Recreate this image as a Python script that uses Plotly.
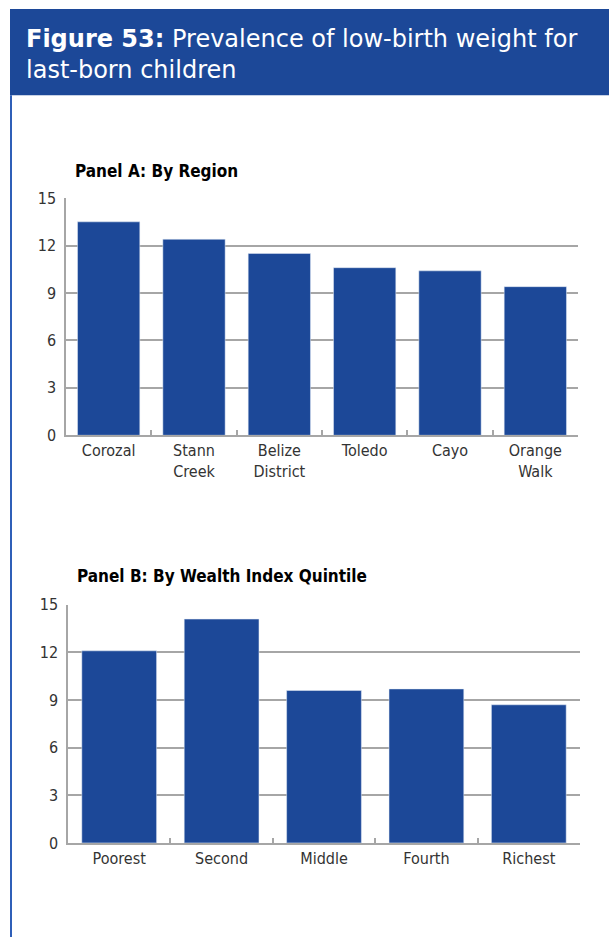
import plotly.graph_objects as go

# Panel A: by region
regions = ["Corozal", "Stann<br>Creek", "Belize<br>District", "Toledo", "Cayo", "Orange<br>Walk"]
region_values = [13.5, 12.4, 11.5, 10.6, 10.4, 9.4]

# Panel B: by wealth index quintile
quintiles = ["Poorest", "Second", "Middle", "Fourth", "Richest"]
quintile_values = [12.1, 14.1, 9.6, 9.7, 8.7]

y_ticks = [0, 3, 6, 9, 12, 15]

W, H = 609, 947
BLUE = "#1c4898"
GRID = "#a6a6a6"
NARROW = "DejaVu Sans Condensed, Liberation Sans Narrow, sans-serif"


def px_x(x):
    return x / W


def px_y(y):
    return 1 - y / H


fig = go.Figure()
fig.add_trace(go.Bar(x=regions, y=region_values, marker_color=BLUE,
                     xaxis="x", yaxis="y", hoverinfo="x+y"))
fig.add_trace(go.Bar(x=quintiles, y=quintile_values, marker_color=BLUE,
                     xaxis="x2", yaxis="y2", hoverinfo="x+y"))

xaxis_style = dict(showline=True, linecolor=GRID, linewidth=2, ticks="inside",
                   tickson="boundaries", ticklen=5, tickcolor=GRID, tickwidth=1.5,
                   tickfont=dict(family=NARROW, size=16, color="#333"),
                   showgrid=False, fixedrange=True)
yaxis_style = dict(range=[0, 15], tickvals=y_ticks, showline=True, linecolor=GRID,
                   linewidth=1.5, gridcolor=GRID, gridwidth=1.5, ticks="",
                   ticklabelstandoff=5, zeroline=False,
                   tickfont=dict(family=NARROW, size=16, color="#333"),
                   fixedrange=True)

fig.update_layout(
    autosize=True,
    margin=dict(l=0, r=0, t=0, b=0),
    paper_bgcolor="white", plot_bgcolor="white",
    showlegend=False, bargap=0.27,
    xaxis=dict(domain=[px_x(66), px_x(578)], anchor="y", **xaxis_style),
    yaxis=dict(domain=[px_y(435), px_y(193)], anchor="x", **yaxis_style),
    xaxis2=dict(domain=[px_x(68), px_x(580)], anchor="y2", **xaxis_style),
    yaxis2=dict(domain=[px_y(851), px_y(608)], anchor="x2", **yaxis_style),
)

# header band and box border
fig.add_shape(type="rect", xref="paper", yref="paper", x0=px_x(10), x1=1,
              y0=px_y(88), y1=1, fillcolor=BLUE, line_width=0, layer="below")
fig.add_shape(type="line", xref="paper", yref="paper", x0=px_x(11), x1=px_x(11),
              y0=0, y1=px_y(88), line=dict(color="#2f5fb8", width=2))

fig.add_annotation(
    xref="paper", yref="paper", x=px_x(24), y=px_y(14), xanchor="left", yanchor="top",
    align="left", showarrow=False,
    text="<b>Figure 53:</b> Prevalence of low-birth weight for<br>last-born children",
    font=dict(family="DejaVu Sans, sans-serif", size=24, color="white"),
)
fig.add_annotation(
    xref="paper", yref="paper", x=px_x(73), y=px_y(165), xanchor="left", yanchor="middle",
    showarrow=False, text="<b>Panel A: By Region</b>",
    font=dict(family=NARROW, size=17, color="black"),
)
fig.add_annotation(
    xref="paper", yref="paper", x=px_x(75), y=px_y(579), xanchor="left", yanchor="middle",
    showarrow=False, text="<b>Panel B: By Wealth Index Quintile</b>",
    font=dict(family=NARROW, size=17, color="black"),
)

# fill the window exactly, no page margin
pin = ("document.documentElement.style.overflow='hidden';"
       "document.body.style.margin='0';document.body.style.overflow='hidden';"
       "var d=document.getElementById('{plot_id}');"
       "d.style.position='fixed';d.style.left='0';d.style.top='0';"
       "d.style.width='100vw';d.style.height='100vh';"
       "Plotly.Plots.resize(d);")

fig.write_html("out.html", config={"displayModeBar": False, "responsive": True},
               default_width="100vw", default_height="100vh", post_script=pin)
